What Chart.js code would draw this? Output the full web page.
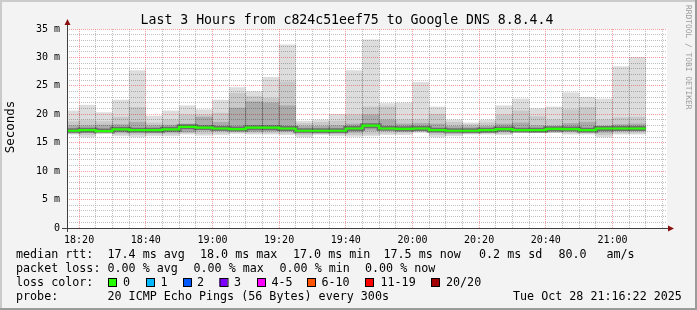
<!DOCTYPE html>
<html>
<head>
<meta charset="utf-8">
<script src="https://cdn.jsdelivr.net/npm/chart.js@4.4.1/dist/chart.umd.min.js"></script>
<style>
html, body { margin: 0; padding: 0; background: #f3f3f3; }
canvas { display: block; }
</style>
</head>
<body>
<canvas id="smoke" width="697" height="310"></canvas>
<script>
// start of each 5 minute slot
var slots = ["18:15","18:20","18:25","18:30","18:35","18:40","18:45","18:50","18:55",
             "19:00","19:05","19:10","19:15","19:20","19:25","19:30","19:35","19:40","19:45","19:50","19:55",
             "20:00","20:05","20:10","20:15","20:20","20:25","20:30","20:35","20:40","20:45","20:50","20:55",
             "21:00","21:05"];

// rtt in ms
var maxRtt = [20.6,21.6,20.3,22.5,27.7,19.7,20.6,21.5,20.8,22.5,24.7,24.0,26.5,32.2,18.8,19.0,20.0,27.7,33.1,21.9,22.0,25.6,21.3,19.0,18.5,19.0,21.5,22.7,21.0,21.3,23.8,23.0,22.7,28.4,30.0];
var hiRtt2 = [18.7,18.9,18.7,19.5,21.2,18.5,19.0,19.9,19.9,20.2,23.7,23.1,22.8,25.7,18.4,18.6,18.8,19.9,21.3,21.3,19.0,19.0,20.0,18.6,18.2,18.5,19.9,20.6,19.6,19.0,20.8,21.2,19.0,19.4,19.5];
var hiRtt3 = [18.0,18.0,18.1,18.2,18.6,18.0,18.1,18.3,19.5,18.6,21.1,22.2,22.0,21.5,17.9,17.9,18.0,18.3,19.9,19.0,18.3,18.4,18.3,17.9,17.8,17.9,18.3,18.5,18.0,17.9,18.4,18.6,17.9,18.2,18.3];
var median = [17.1,17.1,17.2,17.05,17.35,17.2,17.2,17.35,17.8,17.65,17.5,17.4,17.65,17.65,17.5,17.1,17.1,17.1,17.5,18.0,17.5,17.45,17.5,17.2,17.1,17.1,17.2,17.4,17.2,17.2,17.45,17.4,17.2,17.5,17.5];
var loRtt3 = [16.9,16.8,17.0,16.8,16.9,16.8,16.8,16.9,17.3,17.2,17.1,17.0,17.1,17.0,16.9,16.8,16.8,16.8,17.2,17.4,17.0,17.1,17.0,16.9,16.8,16.8,16.9,17.1,16.8,16.8,17.1,17.0,16.8,17.1,17.1];
var loRtt2 = [16.7,16.4,16.9,16.5,16.4,16.5,16.5,16.7,16.6,16.7,16.8,16.7,16.7,16.7,16.4,16.6,16.5,16.4,16.5,16.7,16.7,16.9,16.4,16.5,16.7,16.7,16.6,16.9,16.9,16.9,16.7,16.7,16.4,16.7,16.7];
var minRtt = [16.5,16.0,16.8,16.2,16.0,16.2,16.2,16.5,16.3,16.4,16.6,16.5,16.5,16.4,16.0,16.4,16.2,16.1,16.2,16.4,16.4,16.8,16.0,16.2,16.5,16.5,16.4,16.8,16.8,16.8,16.5,16.5,16.0,16.5,16.5];

var xTickLabels = ["18:20","18:40","19:00","19:20","19:40","20:00","20:20","20:40","21:00"];
var yTickLabels = ["0","5 m","10 m","15 m","20 m","25 m","30 m","35 m"];
var viewStart = "18:16:22";
var viewEnd = "21:16:22";

var title = "Last 3 Hours from c824c51eef75 to Google DNS 8.8.4.4";
var lossColors = [["0","#26ff00"],["1","#00b8ff"],["2","#0059ff"],["3","#7e00ff"],
                  ["4-5","#ff00ff"],["6-10","#ff5500"],["11-19","#ff0000"],["20/20","#a10000"]];

function toMin(t) {
    var p = t.split(":").map(Number);
    return (p[0] - 18) * 60 + p[1] + (p[2] || 0) / 60;
}

function band(lo, hi, color, order) {
    return {
        type: 'bar',
        order: order,
        data: slots.map(function (s, i) { return {x: toMin(s) + 2.5, y: [lo[i], hi[i]]}; }),
        backgroundColor: color,
        borderWidth: 0,
        grouped: false,
        barPercentage: 1,
        categoryPercentage: 1
    };
}

var medianPts = slots.map(function (s, i) { return {x: toMin(s), y: median[i]}; });
medianPts.push({x: toMin(slots[slots.length - 1]) + 5, y: median[median.length - 1]});

var mono = '"DejaVu Sans Mono"';
var gridGray = 'rgba(170,170,170,0.75)';
var gridRed = 'rgba(255,94,94,0.6)';

var frame = {
    id: 'frame',
    beforeDraw: function (chart) {
        var ctx = chart.ctx, ca = chart.chartArea, w = chart.width, h = chart.height;
        ctx.save();
        ctx.fillStyle = '#f3f3f3';
        ctx.fillRect(0, 0, w, h);
        ctx.fillStyle = '#cbcbcb';
        ctx.fillRect(0, 0, w, 2);
        ctx.fillRect(0, 0, 2, h);
        ctx.fillStyle = '#9b9b9b';
        ctx.fillRect(0, h - 2, w, 2);
        ctx.fillRect(w - 2, 0, 2, h);
        ctx.fillStyle = '#ffffff';
        ctx.fillRect(ca.left, ca.top, ca.right - ca.left, ca.bottom - ca.top);
        ctx.restore();
    },
    afterDraw: function (chart) {
        var ctx = chart.ctx, ca = chart.chartArea;
        ctx.save();
        // axes and arrows
        ctx.strokeStyle = '#404040';
        ctx.lineWidth = 1;
        ctx.beginPath();
        ctx.moveTo(ca.left - 5, ca.bottom + 0.5);
        ctx.lineTo(ca.right + 2, ca.bottom + 0.5);
        ctx.moveTo(ca.left + 0.5, ca.bottom + 4);
        ctx.lineTo(ca.left + 0.5, ca.top - 4);
        ctx.stroke();
        ctx.fillStyle = '#8b1010';
        ctx.beginPath();
        ctx.moveTo(ca.right + 7, ca.bottom + 0.5);
        ctx.lineTo(ca.right + 1, ca.bottom - 2.5);
        ctx.lineTo(ca.right + 1, ca.bottom + 3.5);
        ctx.fill();
        ctx.beginPath();
        ctx.moveTo(ca.left + 0.5, ca.top - 10);
        ctx.lineTo(ca.left - 2.5, ca.top - 4);
        ctx.lineTo(ca.left + 3.5, ca.top - 4);
        ctx.fill();

        ctx.fillStyle = '#000';
        ctx.font = '13.2px ' + mono;
        ctx.textAlign = 'center';
        ctx.fillText(title, 347, 24);

        ctx.save();
        ctx.translate(11, 127);
        ctx.rotate(-Math.PI / 2);
        ctx.font = '12.5px ' + mono;
        ctx.textBaseline = 'middle';
        ctx.fillText('Seconds', 0, 0);
        ctx.restore();

        ctx.save();
        ctx.translate(688, 5);
        ctx.rotate(Math.PI / 2);
        ctx.font = '7.9px ' + mono;
        ctx.textAlign = 'left';
        ctx.textBaseline = 'middle';
        ctx.fillStyle = '#9a9a9a';
        ctx.fillText('RRDTOOL / TOBI OETIKER', 0, 0);
        ctx.restore();

        // legend
        ctx.font = '11.7px ' + mono;
        ctx.textAlign = 'left';
        ctx.fillStyle = '#000';
        var rows = [
            [258, [[16, 'median rtt:'], [107.5, '17.4 ms avg'], [200, '18.0 ms max'], [293, '17.0 ms min'],
                   [383.5, '17.5 ms now'], [479, '0.2 ms sd'], [558.5, '80.0'], [606.5, 'am/s']]],
            [271.5, [[16, 'packet loss:'], [107.5, '0.00 % avg'], [193.5, '0.00 % max'], [279.5, '0.00 % min'], [365, '0.00 % now']]],
            [286, [[16, 'loss color:']]],
            [300, [[16, 'probe:'], [107.5, '20 ICMP Echo Pings (56 Bytes) every 300s'], [513, 'Tue Oct 28 21:16:22 2025']]]
        ];
        rows.forEach(function (r) {
            r[1].forEach(function (t) { ctx.fillText(t[1], t[0], r[0]); });
        });
        var boxX = [108, 146, 183, 219.5, 257, 307, 365, 431];
        var textX = [123, 160.5, 197, 234, 271.5, 321.5, 380.5, 446];
        lossColors.forEach(function (lc, i) {
            ctx.fillStyle = lc[1];
            ctx.fillRect(boxX[i], 278, 8, 8);
            ctx.strokeStyle = '#000';
            ctx.strokeRect(boxX[i] + 0.5, 278.5, 8, 8);
            ctx.fillStyle = '#000';
            ctx.fillText(lc[0], textX[i], 286);
        });
        ctx.restore();
    }
};

var xTicks = [];
for (var m = 20; m <= 195; m += 5) xTicks.push(m);

var ctx = document.getElementById("smoke").getContext("2d");
new Chart(ctx, {
    type: 'bar',
    data: {
        datasets: [
            {
                type: 'line', order: 0, data: medianPts, stepped: 'after',
                borderColor: '#26ff00', borderWidth: 2.2, pointRadius: 0, fill: false
            },
            {
                type: 'line', order: 1, data: medianPts, stepped: 'after',
                borderColor: 'rgba(0,0,0,0.35)', borderWidth: 5, pointRadius: 0, fill: false
            },
            band(loRtt3, hiRtt3, 'rgba(0,0,0,0.15)', 2),
            band(loRtt2, hiRtt2, 'rgba(0,0,0,0.09)', 3),
            band(minRtt, maxRtt, 'rgba(0,0,0,0.135)', 4)
        ]
    },
    options: {
        responsive: false,
        animation: false,
        devicePixelRatio: 1,
        layout: {padding: {left: 0, right: 30, top: 29, bottom: 0}},
        plugins: {legend: {display: false}, tooltip: {enabled: false}, title: {display: false}},
        scales: {
            x: {
                type: 'linear',
                offset: false,
                min: toMin(viewStart),
                max: toMin(viewEnd),
                afterBuildTicks: function (axis) {
                    axis.ticks = xTicks.map(function (v) { return {value: v}; });
                },
                afterFit: function (axis) { axis.height = 82; },
                grid: {
                    offset: false,
                    drawTicks: false,
                    color: function (c) { return c.tick && c.tick.value % 20 === 0 ? gridRed : gridGray; }
                },
                border: {display: false, dash: [1, 1]},
                ticks: {
                    padding: 6,
                    maxRotation: 0,
                    autoSkip: false,
                    color: '#000',
                    font: {family: 'DejaVu Sans Mono', size: 10},
                    callback: function (v) {
                        var i = xTickLabels.findIndex(function (l) { return toMin(l) === v; });
                        return i >= 0 ? xTickLabels[i] : '';
                    }
                }
            },
            y: {
                min: 0,
                max: 35,
                afterFit: function (axis) { axis.width = 67; },
                grid: {
                    drawTicks: false,
                    color: function (c) { return c.tick && c.tick.value % 5 === 0 ? gridRed : gridGray; }
                },
                border: {display: false, dash: [1, 1]},
                ticks: {
                    stepSize: 1,
                    padding: 7,
                    autoSkip: false,
                    color: '#000',
                    font: {family: 'DejaVu Sans Mono', size: 10},
                    callback: function (v) { return v % 5 === 0 ? yTickLabels[v / 5] : ''; }
                }
            }
        }
    },
    plugins: [frame]
});
</script>
</body>
</html>
